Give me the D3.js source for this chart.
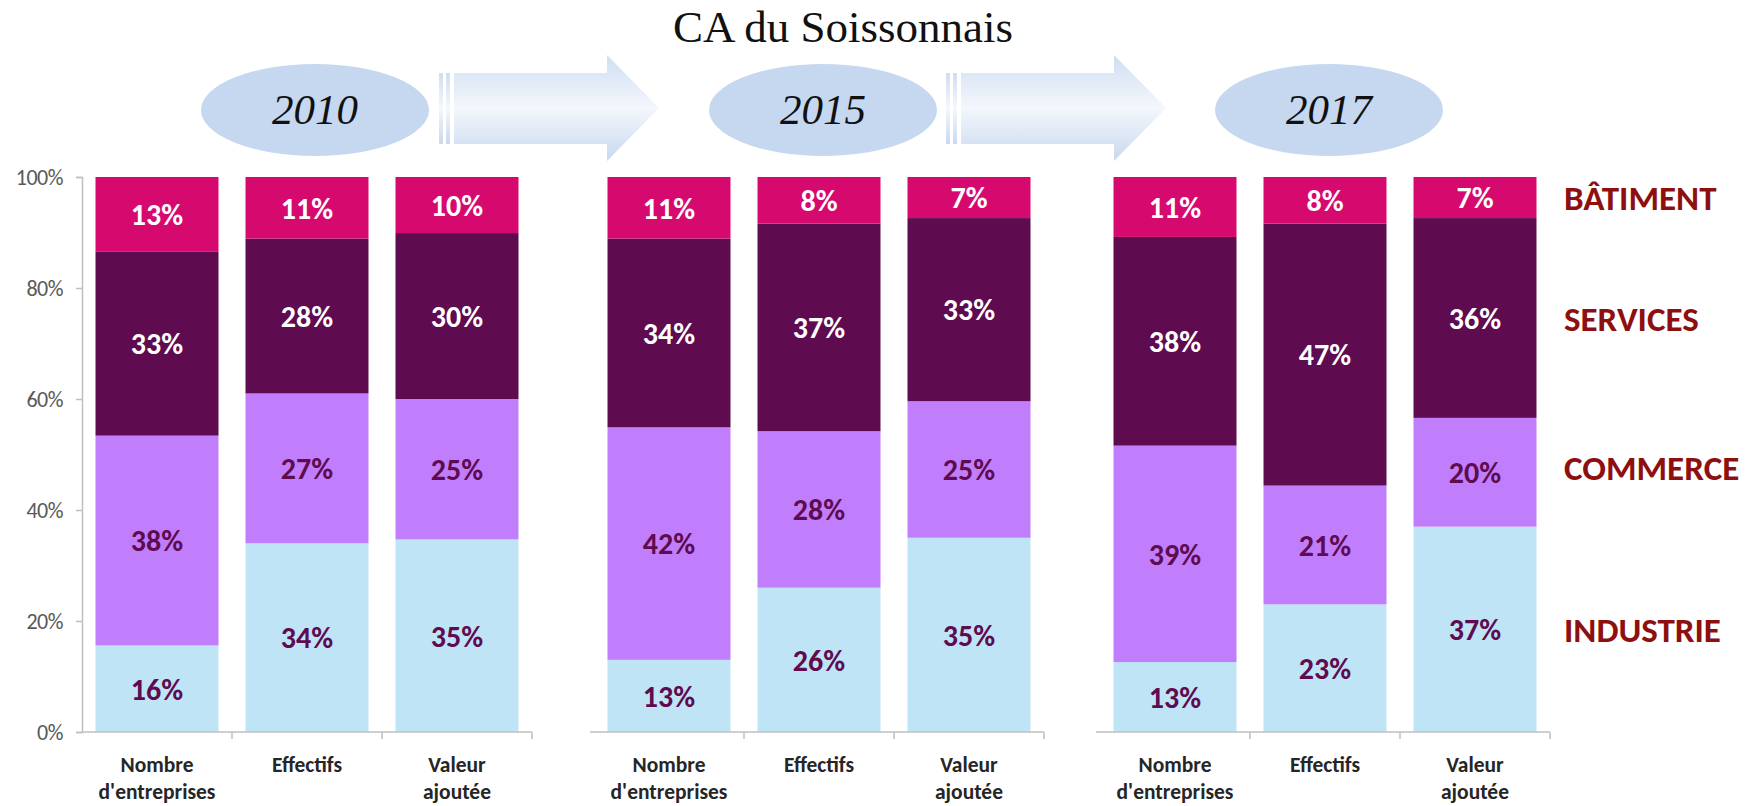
<!DOCTYPE html>
<html>
<head>
<meta charset="utf-8">
<script src="https://cdn.jsdelivr.net/npm/d3@7"></script>
<style>
  body { margin: 0; background: #fff; }
  svg { display: block; }
</style>
</head>
<body>
<svg id="chart" width="1752" height="806"></svg>
<script>
// categories and series (share in %, one value per year x category)
const years = ["2010", "2015", "2017"];
const categories = ["Nombre d'entreprises", "Effectifs", "Valeur ajoutée"];
const categoryLines = [["Nombre", "d'entreprises"], ["Effectifs"], ["Valeur", "ajoutée"]];
const sectors = ["INDUSTRIE", "COMMERCE", "SERVICES", "BÂTIMENT"];

const industrie = [15.6, 34.0, 34.7, 13.0, 26.0, 35.0, 12.6, 23.0, 37.0];
const commerce  = [37.8, 27.0, 25.3, 41.9, 28.2, 24.6, 39.0, 21.4, 19.6];
const services  = [33.2, 27.9, 29.9, 34.0, 37.4, 33.0, 37.6, 47.2, 36.0];
const batiment  = [13.4, 11.1, 10.1, 11.1,  8.4,  7.4, 10.8,  8.4,  7.4];

const yTicks = [0, 0.2, 0.4, 0.6, 0.8, 1];

const colors = d3.scaleOrdinal()
  .domain(sectors)
  .range(["#bfe4f6", "#c17efc", "#5e0b50", "#d6096f"]);
const labelColors = d3.scaleOrdinal()
  .domain(sectors)
  .range(["#5e0b50", "#5e0b50", "#ffffff", "#ffffff"]);

const svg = d3.select("#chart");
const font = "Carlito, Lato, 'Open Sans', sans-serif";

// layout
const panelLeft = [82, 594, 1100];
const panelWidth = 450;
const yScale = d3.scaleLinear().domain([0, 1]).range([732, 177]);
const xScale = d3.scaleBand()
  .domain(categories)
  .range([0, panelWidth])
  .paddingInner(0.18)
  .paddingOuter(0.09);

// rows for stacking
const rows = years.map((year, yi) => categories.map((cat, ci) => {
  const i = yi * 3 + ci;
  return {
    year, cat,
    INDUSTRIE: industrie[i] / 100,
    COMMERCE: commerce[i] / 100,
    SERVICES: services[i] / 100,
    "BÂTIMENT": batiment[i] / 100
  };
}));

const stack = d3.stack().keys(sectors);

// title
svg.append("text")
  .attr("x", 843)
  .attr("y", 42)
  .attr("text-anchor", "middle")
  .attr("font-family", "'Liberation Serif', 'DejaVu Serif', serif")
  .attr("font-size", 45)
  .attr("fill", "#111")
  .text("CA du Soissonnais");

// arrow gradient
const defs = svg.append("defs");
const grad = defs.append("linearGradient")
  .attr("id", "arrowGrad")
  .attr("x1", 0).attr("y1", 0).attr("x2", 0).attr("y2", 1);
grad.append("stop").attr("offset", "0%").attr("stop-color", "#cfdef2");
grad.append("stop").attr("offset", "50%").attr("stop-color", "#f4f7fc");
grad.append("stop").attr("offset", "100%").attr("stop-color", "#c8d8ef");

// arrows between years
const arrowStarts = [439, 946];
arrowStarts.forEach(x0 => {
  const g = svg.append("g").attr("transform", `translate(${x0},0)`);
  g.append("rect").attr("x", 0).attr("y", 73).attr("width", 4).attr("height", 71).attr("fill", "url(#arrowGrad)");
  g.append("rect").attr("x", 7).attr("y", 73).attr("width", 4).attr("height", 71).attr("fill", "url(#arrowGrad)");
  g.append("path")
    .attr("d", "M15,73 L168,73 L168,55 L220,108 L168,161 L168,144 L15,144 Z")
    .attr("fill", "url(#arrowGrad)");
});

// year ellipses
years.forEach((year, yi) => {
  const cx = panelLeft[yi] + panelWidth / 2 + (yi === 0 ? 8 : 4);
  svg.append("ellipse")
    .attr("cx", cx).attr("cy", 110)
    .attr("rx", 114).attr("ry", 46)
    .attr("fill", "#c6d8ef");
  svg.append("text")
    .attr("x", cx).attr("y", 124)
    .attr("text-anchor", "middle")
    .attr("font-family", "'Liberation Serif', 'DejaVu Serif', serif")
    .attr("font-style", "italic")
    .attr("font-size", 43)
    .attr("fill", "#111")
    .text(year);
});

// y axis (first panel only)
const yAxis = svg.append("g")
  .attr("transform", `translate(${panelLeft[0]},0)`)
  .call(d3.axisLeft(yScale).tickValues(yTicks).tickFormat(d3.format(".0%")).tickSize(6).tickPadding(13));
yAxis.select(".domain").attr("stroke", "#bfbfbf").attr("stroke-width", 1.5);
yAxis.selectAll(".tick line").attr("stroke", "#bfbfbf").attr("stroke-width", 1.5);
yAxis.selectAll(".tick text")
  .attr("font-family", font)
  .attr("font-size", 22)
  .attr("letter-spacing", -0.5)
  .attr("fill", "#595959");

// panels
years.forEach((year, yi) => {
  const panel = svg.append("g")
    .attr("class", "panel")
    .attr("transform", `translate(${panelLeft[yi]},0)`);

  const series = stack(rows[yi]);

  const layer = panel.selectAll(".layer")
    .data(series)
    .join("g")
    .attr("class", "layer")
    .attr("fill", d => colors(d.key));

  layer.selectAll("rect")
    .data(d => d)
    .join("rect")
    .attr("x", d => xScale(d.data.cat))
    .attr("width", xScale.bandwidth())
    .attr("y", d => yScale(d[1]))
    .attr("height", d => yScale(d[0]) - yScale(d[1]));

  layer.selectAll("text")
    .data(d => d.map(v => ({v, key: d.key})))
    .join("text")
    .attr("x", d => xScale(d.v.data.cat) + xScale.bandwidth() / 2)
    .attr("y", d => yScale((d.v[0] + d.v[1]) / 2))
    .attr("dy", "0.36em")
    .attr("text-anchor", "middle")
    .attr("font-family", font)
    .attr("font-weight", "bold")
    .attr("font-size", 30)
    .attr("fill", d => labelColors(d.key))
    .text(d => Math.round((d.v[1] - d.v[0]) * 100) + "%");

  // x axis line with ticks at band boundaries
  panel.append("line")
    .attr("x1", yi === 0 ? 0 : -4).attr("x2", panelWidth)
    .attr("y1", yScale(0)).attr("y2", yScale(0))
    .attr("stroke", "#bfbfbf").attr("stroke-width", 1.5);
  panel.selectAll(".xtick")
    .data(categories)
    .join("line")
    .attr("class", "xtick")
    .attr("x1", d => xScale(d) + xScale.bandwidth() + xScale.step() * xScale.paddingInner() / 2)
    .attr("x2", d => xScale(d) + xScale.bandwidth() + xScale.step() * xScale.paddingInner() / 2)
    .attr("y1", yScale(0)).attr("y2", yScale(0) + 7)
    .attr("stroke", "#bfbfbf").attr("stroke-width", 1.5);

  // category labels
  panel.selectAll(".xlabel")
    .data(categories)
    .join("text")
    .attr("class", "xlabel")
    .attr("x", d => xScale(d) + xScale.bandwidth() / 2)
    .attr("y", 772)
    .attr("text-anchor", "middle")
    .attr("font-family", font)
    .attr("font-weight", "bold")
    .attr("font-size", 21.5)
    .attr("fill", "#262626")
    .selectAll("tspan")
    .data((d, i) => categoryLines[i])
    .join("tspan")
    .attr("x", function() { return d3.select(this.parentNode).attr("x"); })
    .attr("dy", (d, i) => i === 0 ? 0 : 27)
    .text(d => d);
});

// sector labels, aligned with the last bar's segments
const lastSeries = stack(rows[2]);
svg.selectAll(".sector")
  .data(lastSeries)
  .join("text")
  .attr("class", "sector")
  .attr("x", 1564)
  .attr("y", d => yScale((d[2][0] + d[2][1]) / 2) + (d.key === "COMMERCE" ? -5 : 0))
  .attr("dy", "0.36em")
  .attr("font-family", font)
  .attr("font-weight", "bold")
  .attr("font-size", 35)
  .attr("fill", "#8e0f10")
  .text(d => d.key);
</script>
</body>
</html>
